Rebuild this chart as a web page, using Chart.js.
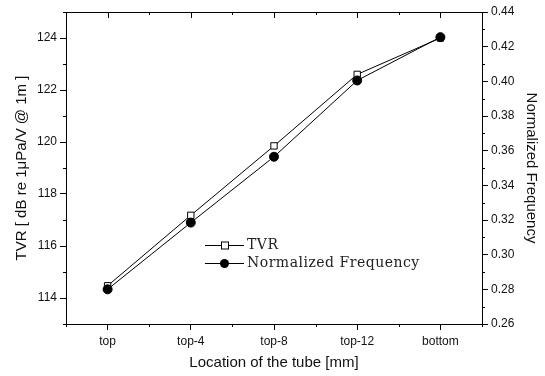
<!DOCTYPE html>
<html>
<head>
<meta charset="utf-8">
<script src="https://cdn.jsdelivr.net/npm/chart.js@4.4.1/dist/chart.umd.min.js"></script>
<style>
  html, body { margin: 0; padding: 0; background: #fff; }
  #wrap { position: relative; width: 545px; height: 376px; }
</style>
</head>
<body>
<div id="wrap"><canvas id="c" width="545" height="376"></canvas></div>
<script>
// ── data
const locations = ['top', 'top-4', 'top-8', 'top-12', 'bottom'];
const tvr = [114.47, 117.18, 119.85, 122.6, 124.0];
const normFreq = [0.280, 0.3185, 0.3565, 0.4005, 0.4255];
const tvrTicks = [114, 116, 118, 120, 122, 124];
const tvrMinor = [113, 115, 117, 119, 121, 123, 125];
const freqTicks = [0.26, 0.28, 0.30, 0.32, 0.34, 0.36, 0.38, 0.40, 0.42, 0.44];
const freqMinor = [0.27, 0.29, 0.31, 0.33, 0.35, 0.37, 0.39, 0.41, 0.43];

const tickFont = { family: 'Liberation Sans, Arial, sans-serif', size: 12 };
const titleFont = { family: 'Liberation Sans, Arial, sans-serif', size: 15 };
const ink = '#111';

// minor ticks, top axis ticks and the in-plot legend
const decorations = {
  id: 'decorations',
  afterDraw(chart) {
    const { ctx, chartArea: a, scales } = chart;
    const x = scales.x, y = scales.y, y1 = scales.y1;
    ctx.save();
    ctx.strokeStyle = '#000';
    ctx.lineWidth = 1;
    ctx.beginPath();
    // left minor ticks (outward)
    tvrMinor.forEach(v => {
      const py = Math.round(y.getPixelForValue(v)) + 0.5;
      ctx.moveTo(a.left - 3, py); ctx.lineTo(a.left, py);
    });
    // right minor ticks (outward)
    freqMinor.forEach(v => {
      const py = Math.round(y1.getPixelForValue(v)) + 0.5;
      ctx.moveTo(a.right, py); ctx.lineTo(a.right + 3, py);
    });
    // bottom minor ticks at category boundaries, top ticks inward
    const step = (a.right - a.left) / locations.length;
    for (let i = 0; i <= locations.length; i++) {
      const px = Math.round(a.left + i * step) + 0.5;
      ctx.moveTo(px, a.bottom); ctx.lineTo(px, a.bottom + 3);
      ctx.moveTo(px, a.top); ctx.lineTo(px, a.top + 3);
    }
    locations.forEach((_, i) => {
      const px = Math.round(x.getPixelForValue(i)) + 0.5;
      ctx.moveTo(px, a.top); ctx.lineTo(px, a.top + 6);
    });
    // top border
    ctx.moveTo(a.left, a.top + 0.5); ctx.lineTo(a.right, a.top + 0.5);
    ctx.stroke();

    // legend
    const lx = a.left + 139, ly = a.top + 233;
    ctx.font = '14px "DejaVu Serif", serif';
    ctx.letterSpacing = '0.5px';
    ctx.textBaseline = 'middle';
    chart.data.datasets.forEach((ds, i) => {
      const yy = ly + i * 18 + 0.5;
      ctx.beginPath();
      ctx.moveTo(lx, yy); ctx.lineTo(lx + 39, yy);
      ctx.stroke();
      if (ds.pointStyle === 'rect') {
        ctx.fillStyle = '#fff';
        ctx.fillRect(lx + 16.5, yy - 3.5, 7, 7);
        ctx.strokeRect(lx + 16.5, yy - 3.5, 7, 7);
      } else {
        ctx.fillStyle = '#000';
        ctx.beginPath();
        ctx.arc(lx + 19.5, yy, 4.5, 0, Math.PI * 2);
        ctx.fill();
      }
      ctx.fillStyle = '#222';
      ctx.fillText(ds.label, lx + 42, yy);
    });
    ctx.restore();
  }
};

new Chart(document.getElementById('c'), {
  type: 'line',
  data: {
    labels: locations,
    datasets: [
      {
        label: 'TVR',
        data: tvr,
        yAxisID: 'y',
        borderColor: '#000',
        borderWidth: 1,
        pointStyle: 'rect',
        pointRadius: 4.5,
        pointBackgroundColor: '#fff',
        pointBorderColor: '#000',
        pointBorderWidth: 1,
        order: 1,
      },
      {
        label: 'Normalized Frequency',
        data: normFreq,
        yAxisID: 'y1',
        borderColor: '#000',
        borderWidth: 1,
        pointStyle: 'circle',
        pointRadius: 4.5,
        pointBackgroundColor: '#000',
        pointBorderColor: '#000',
        order: 0,
      },
    ],
  },
  options: {
    responsive: false,
    animation: false,
    layout: { padding: { top: 12, left: 0, right: 0, bottom: 0 } },
    plugins: { legend: { display: false }, tooltip: { enabled: false } },
    scales: {
      x: {
        type: 'category',
        offset: true,
        grid: { drawOnChartArea: false, tickLength: 6, color: '#000' },
        border: { color: '#000', width: 1 },
        ticks: { font: tickFont, color: ink, padding: 4, maxRotation: 0 },
        title: { display: true, text: 'Location of the tube [mm]', font: titleFont, color: ink, padding: { top: 4, bottom: 4 } },
        afterFit(s) { s.height = 52; },
      },
      y: {
        position: 'left',
        min: 113, max: 125,
        afterBuildTicks(s) { s.ticks = tvrTicks.map(v => ({ value: v })); },
        grid: { drawOnChartArea: false, tickLength: 6, color: '#000' },
        border: { color: '#000', width: 1 },
        ticks: { font: tickFont, color: ink, padding: 3 },
        title: { display: true, text: 'TVR [ dB re 1\u03bcPa/V @ 1m ]', font: titleFont, color: ink, padding: { top: 13, bottom: 0 } },
        afterFit(s) { s.width = 66; },
      },
      y1: {
        position: 'right',
        min: 0.26, max: 0.44,
        afterBuildTicks(s) { s.ticks = freqTicks.map(v => ({ value: v })); },
        grid: { drawOnChartArea: false, tickLength: 6, color: '#000' },
        border: { color: '#000', width: 1 },
        ticks: { font: tickFont, color: ink, padding: 3, callback: v => v.toFixed(2) },
        title: { display: true, text: 'Normalized Frequency', font: titleFont, color: ink, padding: { top: 5, bottom: 0 } },
        afterFit(s) { s.width = 63; },
      },
    },
  },
  plugins: [decorations],
});
</script>
</body>
</html>
